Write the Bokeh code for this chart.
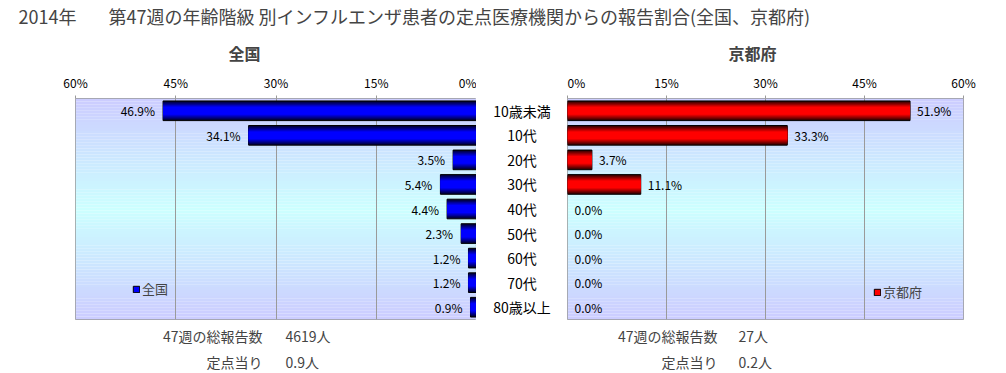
from bokeh.plotting import figure
from bokeh.layouts import column, row
from bokeh.models import (Range1d, FactorRange, FixedTicker, PrintfTickFormatter,
                          Label, Legend, LegendItem, ColumnDataSource)
from bokeh.embed import file_html
from bokeh.resources import INLINE
from bokeh.core.properties import value

# ---------------- data ----------------
categories = ["10歳未満", "10代", "20代", "30代", "40代", "50代", "60代", "70代", "80歳以上"]
national = [46.9, 34.1, 3.5, 5.4, 4.4, 2.3, 1.2, 1.2, 0.9]
kyoto = [51.9, 33.3, 3.7, 11.1, 0.0, 0.0, 0.0, 0.0, 0.0]
tick_values = [0, 15, 30, 45, 60]
grid_values = [15, 30, 45]
title_year = "2014年"
title_text = "第47週の年齢階級 別インフルエンザ患者の定点医療機関からの報告割合(全国、京都府)"
panel_names = ["全国", "京都府"]
total_label = "47週の総報告数"
per_label = "定点当り"
national_total = "4619人"
national_per = "0.9人"
kyoto_total = "27人"
kyoto_per = "0.2人"

FONT = "Noto Sans CJK JP"
GRID = "#9a9a9a"

y_range = FactorRange(factors=categories[::-1], range_padding=0)


def mix(c1, c2, t):
    return "#%02x%02x%02x" % tuple(int(round(a + (b - a) * t)) for a, b in zip(c1, c2))


def add_background(p):
    n = 75
    lav = (204, 204, 255)
    cyan = (204, 255, 255)
    bottoms, tops, cols = [], [], []
    for i in range(n):
        b = 9.0 * i / n
        t = 9.0 * (i + 1) / n
        c = (b + t) / 2
        d = abs(c - 4.5) / 4.5
        bottoms.append(b)
        tops.append(t)
        cols.append(mix(cyan, lav, d))
    src = ColumnDataSource(dict(left=[0] * n, right=[60] * n, bottom=bottoms, top=tops, color=cols))
    p.quad(left="left", right="right", bottom="bottom", top="top", source=src,
           fill_color="color", line_color=None, level="image")


def add_bars(p, vals, dark, bright):
    outline = ["black" if v > 0 else None for v in vals]
    src = ColumnDataSource(dict(cat=categories, val=vals, outline=outline))
    fracs = [1.0, 0.9, 0.8, 0.7, 0.6, 0.5, 0.4]
    for k, f in enumerate(fracs):
        t = min(1.0, k / (len(fracs) - 1))
        col = mix(dark, bright, t)
        p.hbar(y="cat", left=0, right="val", height=0.8 * f, source=src,
               fill_color=col,
               line_color="outline" if k == 0 else None, line_width=1)
    return src


def make_panel(vals, reverse, dark, bright, name, width, mbl, mbr, leg_x, leg_y):
    xr = Range1d(60, 0) if reverse else Range1d(0, 60)
    p = figure(width=width, height=251, x_range=xr, y_range=y_range,
               x_axis_location="above", y_axis_location=None,
               output_backend="svg", toolbar_location=None,
               min_border_left=mbl, min_border_right=mbr,
               min_border_top=24, min_border_bottom=2)
    p.background_fill_color = "white"
    p.border_fill_color = "white"
    p.outline_line_color = GRID
    p.outline_line_width = 1
    add_background(p)

    ax = p.xaxis[0]
    ax.ticker = FixedTicker(ticks=tick_values)
    ax.formatter = PrintfTickFormatter(format="%d%%")
    ax.axis_line_color = None
    ax.major_tick_in = 0
    ax.major_tick_out = 3
    ax.major_tick_line_color = GRID
    ax.minor_tick_line_color = None
    ax.major_label_text_font = FONT
    ax.major_label_text_font_size = "12px"
    ax.major_label_text_color = "black"
    ax.major_label_standoff = 5

    p.xgrid.ticker = FixedTicker(ticks=grid_values)
    p.xgrid.grid_line_color = GRID
    p.ygrid.visible = False

    src = add_bars(p, vals, dark, bright)
    src.data["lab"] = ["%.1f%%" % v for v in vals]
    p.text(x="val", y="cat", text="lab", source=src,
           x_offset=-8 if reverse else 7,
           text_align="right" if reverse else "left", text_baseline="middle",
           text_font=value(FONT), text_font_size="12px", text_color="black")

    # legend proxy: zero-size bars drawn from the same source
    proxy = p.hbar(y="cat", left=0, right=0, height=0, source=src,
                   fill_color=bright, line_color="black", line_width=1, line_alpha=1)
    proxy.glyph.line_alpha = 1
    leg = Legend(items=[LegendItem(label=name, renderers=[proxy])],
                 location=(leg_x, leg_y), border_line_color=None,
                 background_fill_alpha=0, padding=0, margin=0, spacing=0,
                 glyph_width=8, glyph_height=8, label_standoff=2,
                 label_text_font=FONT, label_text_font_size="13px", label_height=14)
    p.add_layout(leg)
    return p


left = make_panel(national, True, (0, 0, 48), (0, 0, 255), panel_names[0],
                  476, 75, 0, 57, 21)
right = make_panel(kyoto, False, (48, 0, 0), (255, 0, 0), panel_names[1],
                   431, 0, 35, 306, 18)

mid = figure(width=91, height=251, x_range=Range1d(0, 1), y_range=y_range,
             x_axis_location=None, y_axis_location=None,
             output_backend="svg", toolbar_location=None,
             min_border_left=0, min_border_right=0, min_border_top=24, min_border_bottom=2)
mid.outline_line_color = None
mid.grid.visible = False
mid.text(x=0.5, y=categories, text=categories, text_align="center", text_baseline="middle",
         text_font=value(FONT), text_font_size="14px", text_color="black")


def blank(width, height):
    f = figure(width=width, height=height, x_range=Range1d(0, 1), y_range=Range1d(0, 1),
               x_axis_location=None, y_axis_location=None,
               output_backend="svg", toolbar_location=None, min_border=0)
    f.outline_line_color = None
    f.grid.visible = False
    return f


top = blank(998, 70)
top.add_layout(Label(x=18, y=55, x_units="screen", y_units="screen", text=title_year,
                     text_baseline="middle", text_font=FONT, text_font_size="18px"))
top.add_layout(Label(x=108, y=55, x_units="screen", y_units="screen", text=title_text,
                     text_baseline="middle", text_font=FONT, text_font_size="18px"))
for nm, cx in [(panel_names[0], 244), (panel_names[1], 752)]:
    top.add_layout(Label(x=cx, y=18, x_units="screen", y_units="screen", text=nm,
                         text_align="center", text_baseline="middle",
                         text_font=FONT, text_font_size="16px", text_font_style="bold"))

bottom = blank(998, 51)
for lab_x, val_x, tot, per in [(262, 285, national_total, national_per),
                                (717, 738, kyoto_total, kyoto_per)]:
    for txt, v, yy in [(total_label, tot, 37), (per_label, per, 11)]:
        bottom.add_layout(Label(x=lab_x, y=yy, x_units="screen", y_units="screen", text=txt,
                                text_align="right", text_baseline="middle",
                                text_font=FONT, text_font_size="14px"))
        bottom.add_layout(Label(x=val_x, y=yy, x_units="screen", y_units="screen", text=v,
                                text_align="left", text_baseline="middle",
                                text_font=FONT, text_font_size="14px"))

layout = column(top, row(left, mid, right), bottom)
open("out.html", "w").write(file_html(layout, INLINE))
